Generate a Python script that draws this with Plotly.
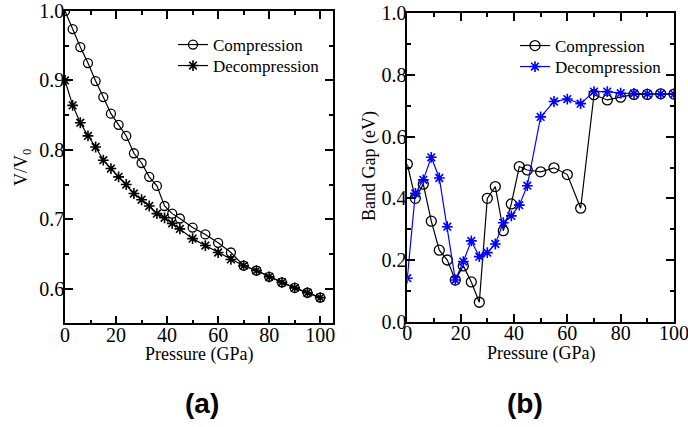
import plotly.graph_objects as go

# ---- data: panel (a) volume ratio ----
pa_comp_x = [0, 3, 6, 9, 12, 15, 18, 21, 24, 27, 30, 33, 36, 39, 42, 45, 50, 55, 60, 65, 70, 75, 80, 85, 90, 95, 100]
pa_comp_y = [1.0, 0.974, 0.948, 0.925, 0.899, 0.876, 0.852, 0.836, 0.820, 0.795, 0.781, 0.761, 0.748,
             0.719, 0.708, 0.701, 0.688, 0.678, 0.666, 0.652, 0.633, 0.626, 0.617, 0.609, 0.601, 0.594, 0.587]
pa_decomp_x = [0, 3, 6, 9, 12, 15, 18, 21, 24, 27, 30, 33, 36, 39, 42, 45, 50, 55, 60, 65, 70, 75, 80, 85, 90, 95, 100]
pa_decomp_y = [0.9, 0.864, 0.839, 0.820, 0.804, 0.785, 0.773, 0.761, 0.750, 0.737, 0.728, 0.719, 0.708,
               0.702, 0.694, 0.686, 0.672, 0.662, 0.652, 0.642, 0.633, 0.626, 0.617, 0.609, 0.601, 0.594, 0.587]

# ---- data: panel (b) band gap ----
pb_comp_x = [0, 3, 6, 9, 12, 15, 18, 21, 24, 27, 30, 33, 36, 39, 42, 45, 50, 55, 60, 65, 70, 75, 80, 85, 90, 95, 100]
pb_comp_y = [0.511, 0.400, 0.446, 0.326, 0.232, 0.200, 0.135, 0.181, 0.129, 0.063, 0.400, 0.438, 0.295,
             0.382, 0.503, 0.492, 0.486, 0.499, 0.477, 0.368, 0.736, 0.719, 0.728, 0.737, 0.737, 0.739, 0.738]
pb_decomp_x = [0, 3, 6, 9, 12, 15, 18, 21, 24, 27, 30, 33, 36, 39, 42, 45, 50, 55, 60, 65, 70, 75, 80, 85, 90, 95, 100]
pb_decomp_y = [0.141, 0.416, 0.460, 0.533, 0.466, 0.308, 0.135, 0.195, 0.262, 0.211, 0.224, 0.252, 0.321,
               0.343, 0.378, 0.441, 0.664, 0.714, 0.722, 0.707, 0.746, 0.746, 0.741, 0.740, 0.739, 0.739, 0.738]

series_names = ["Compression", "Decompression"]
panel_labels = ["(a)", "(b)"]
x_title = "Pressure (GPa)"
ya_title = "V/V<sub>0</sub>"
yb_title = "Band Gap (eV)"

SERIF = "Liberation Serif, Times New Roman, serif"
BLUE = "#0000ff"
W, H = 688, 427

fig = go.Figure()

fig.add_trace(go.Scatter(x=pa_comp_x, y=pa_comp_y, name=series_names[0], mode="lines+markers",
                         line=dict(color="black", width=1.2), showlegend=True,
                         marker=dict(symbol="circle-open", size=9, color="black", line=dict(width=1.3)),
                         xaxis="x", yaxis="y", legend="legend"))
fig.add_trace(go.Scatter(x=pa_decomp_x, y=pa_decomp_y, name=series_names[1], mode="lines+markers",
                         line=dict(color="black", width=1.2), showlegend=True,
                         marker=dict(symbol="asterisk-open", size=9, color="black", line=dict(width=1.6, color="black")),
                         xaxis="x", yaxis="y", legend="legend2"))
fig.add_trace(go.Scatter(x=pb_comp_x, y=pb_comp_y, name=series_names[0], mode="lines+markers",
                         line=dict(color="black", width=1.2), showlegend=True,
                         marker=dict(symbol="circle-open", size=10, color="black", line=dict(width=1.3)),
                         xaxis="x2", yaxis="y2", legend="legend3"))
fig.add_trace(go.Scatter(x=pb_decomp_x, y=pb_decomp_y, name=series_names[1], mode="lines+markers",
                         line=dict(color=BLUE, width=1.2), showlegend=True,
                         marker=dict(symbol="asterisk-open", size=9, color=BLUE, line=dict(width=1.6, color=BLUE)),
                         xaxis="x2", yaxis="y2", legend="legend4"))


def ax_common(is_y):
    return dict(showline=True, linecolor="black", linewidth=1.5, mirror="ticks",
                ticks="inside", ticklen=8, tickwidth=1.5, tickcolor="black",
                showgrid=False, zeroline=False, automargin=False,
                ticklabelstandoff=(-5 if is_y else -7), ticklabeloverflow="allow",
                tickfont=dict(family=SERIF, size=20, color="black"))


def minor(d):
    return dict(dtick=d, ticklen=4, ticks="inside", tickcolor="black", tickwidth=1.5)


title_font = dict(family=SERIF, size=18, color="black")

xa = ax_common(False)
xa.update(domain=[65 / W, 333 / W], range=[0, 105], dtick=20, tick0=0, anchor="y", minor=minor(10))
ya = ax_common(True)
ya.update(domain=[1 - 323.3 / H, 1 - 11 / H], range=[0.55, 1.0], dtick=0.1, tick0=0.5, tickformat=".1f",
          anchor="x", minor=minor(0.05))
xb = ax_common(False)
xb.update(domain=[407.3 / W, 674 / W], range=[0, 100], dtick=20, tick0=0, anchor="y2", minor=minor(10))
yb = ax_common(True)
yb.update(domain=[1 - 321.7 / H, 1 - 13.3 / H], range=[0, 1.0], dtick=0.2, tick0=0, tickformat=".1f",
          anchor="x2", minor=minor(0.1))


def leg(xpx, ypx):
    return dict(x=xpx / W, y=1 - ypx / H, xanchor="left", yanchor="middle",
                bgcolor="rgba(0,0,0,0)", borderwidth=0,
                font=dict(family=SERIF, size=17, color="black"), itemwidth=30)


label_font = dict(family="Liberation Sans, Arial, sans-serif", size=28, color="black")


def txt(text, xpx, ypx, font, angle=0):
    return dict(text=text, x=xpx / W, y=1 - ypx / H, xref="paper", yref="paper", showarrow=False,
                font=font, xanchor="center", yanchor="middle", textangle=angle)


fig.update_layout(
    width=W, height=H,
    margin=dict(l=0, r=0, t=0, b=0),
    paper_bgcolor="white", plot_bgcolor="white",
    showlegend=True,
    xaxis=xa, yaxis=ya, xaxis2=xb, yaxis2=yb,
    legend=leg(173, 45), legend2=leg(173, 66),
    legend3=leg(515, 46), legend4=leg(515, 67),
    annotations=[
        txt(x_title, 199, 354, title_font),
        txt(x_title, 541, 353, title_font),
        txt(ya_title, 22, 168, title_font, -90),
        txt(yb_title, 369, 166, title_font, -90),
        txt("<b>" + panel_labels[0] + "</b>", 202, 403, label_font),
        txt("<b>" + panel_labels[1] + "</b>", 525, 403, label_font),
    ],
)

fig.write_html("out.html")
